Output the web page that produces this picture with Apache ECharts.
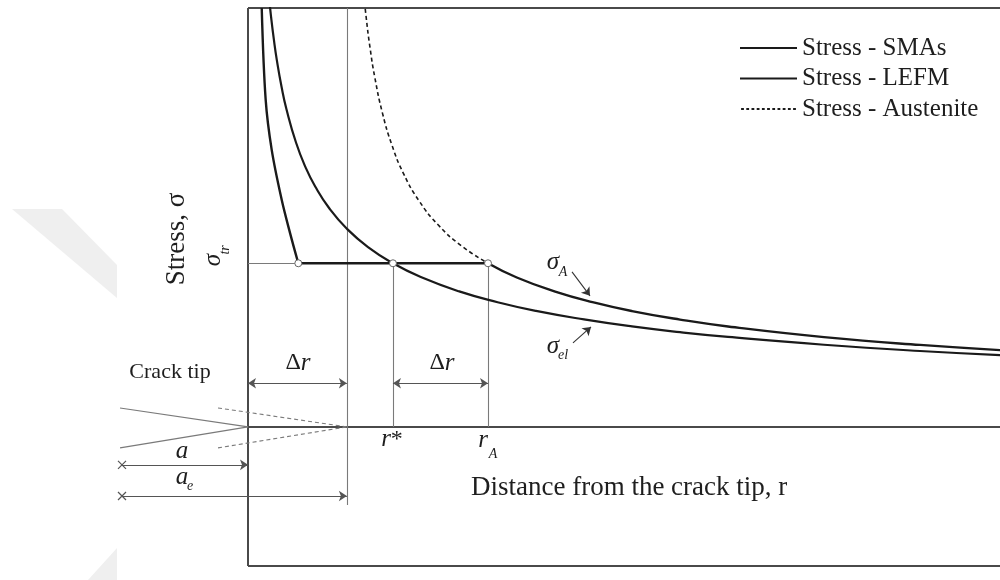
<!DOCTYPE html>
<html><head><meta charset="utf-8">
<script src="https://cdn.jsdelivr.net/npm/echarts/dist/echarts.min.js"></script>
<style>html,body{margin:0;background:#fff}#c{width:1000px;height:580px}</style>
</head><body><div id="c"></div>
<script>
// ---- Data (r in units of ~Δr, stress in units of σ_tr) ----
const legendNames = ['Stress - SMAs', 'Stress - LEFM', 'Stress - Austenite'];

// SMA curve near the tip (before transformation plateau)
const smaLeftR = [0.143, 0.184, 0.247, 0.351, 0.4375, 0.524];
const smaLeftS = [2.56, 2.00, 1.693, 1.388, 1.186, 1.00];
// plateau at σ_tr
const plateauR = [0.524, 2.50];
const plateauS = [1.00, 1.00];
// SMA tail beyond r_A (follows the austenite curve)
const tailR = [2.50, 2.8, 3.2, 3.6, 4.0, 4.5, 5.0, 6.0, 7.0, 8.0];
const tailS = [1.00, 0.913, 0.827, 0.761, 0.708, 0.656, 0.614, 0.549, 0.501, 0.464];
// LEFM (elastic) curve
const lefmR = [0.22, 0.24, 0.27, 0.30, 0.35, 0.40, 0.50, 0.60, 0.70, 0.85, 1.03, 1.25, 1.51, 1.8, 2.2, 2.6, 3.0, 3.5, 4.0, 4.5, 5.0, 6.0, 7.0, 8.0];
const lefmS = [2.620, 2.508, 2.365, 2.243, 2.077, 1.943, 1.738, 1.586, 1.469, 1.333, 1.211, 1.099, 1.000, 0.916, 0.828, 0.762, 0.709, 0.657, 0.614, 0.579, 0.550, 0.502, 0.464, 0.434];
// Austenite curve (dashed part, up to r_A)
const austR = [1.20, 1.23, 1.27, 1.32, 1.40, 1.50, 1.62, 1.78, 1.98, 2.22, 2.50];
const austS = [2.682, 2.508, 2.322, 2.139, 1.919, 1.721, 1.548, 1.383, 1.235, 1.108, 1.000];

// key abscissae / ordinates
const kneeR = 0.524, deltaLineR = 1.03, rStar = 1.51, rA = 2.50, sigmaTr = 1.0;
const rMin = -1.5, rMax = 47 / 6, sMin = -0.85, sMax = 2.56;
const crackStartR = -1.333, crackOpen = [0.116, -0.128], effCrackStartR = -0.3125;
const dimS = 0.267, aS = -0.232, aeS = -0.422, dimStartR = -1.3125, deltaLineBottom = -0.477;
const pointersA = [[3.375, 0.947], [3.5625, 0.801]];
const pointersEl = [[3.385, 0.513], [3.573, 0.611]];

// annotation texts: [formatter, r, s, style]
const annotations = [
  ['{u|Δ}{i|r}', 0.521, 0.391, 'dim'],
  ['{u|Δ}{i|r}', 2.021, 0.391, 'dim'],
  ['Crack tip', -0.8125, 0.336, 'plain'],
  ['{i|a}', -0.6875, -0.147, 'dim'],
  ['{i|a}', -0.6875, -0.306, 'dim'],
  ['{s|e}', -0.604, -0.361, 'sub'],
  ['{i|r}{u|*}', 1.50, -0.079, 'dim'],
  ['{i|r}', 2.448, -0.0856, 'dim'],
  ['{s|A}', 2.552, -0.165, 'sub'],
  ['{i|σ}', 3.177, 1.008, 'dim'],
  ['{s|A}', 3.281, 0.947, 'sub'],
  ['{i|σ}', 3.177, 0.489, 'dim'],
  ['{s|el}', 3.281, 0.44, 'sub'],
  ['Stress, σ', -0.74, 1.149, 'axisV'],
  ['{i|σ}', -0.365, 1.02, 'rotMain'],
  ['{s|tr}', -0.24, 1.082, 'rotSub'],
  ['Distance from the crack tip, r', 3.97, -0.373, 'axisH']
];

// ---- Build ----
const FONT = '"Liberation Serif", "Times New Roman", serif';
const TXT = '#1e1e1e';
const zip = (a, b) => a.map((v, i) => [v, b[i]]);
const rich = {
  u: {fontFamily: FONT, fontSize: 24, color: TXT},
  i: {fontFamily: FONT, fontSize: 25, fontStyle: 'italic', color: TXT},
  s: {fontFamily: FONT, fontSize: 14, fontStyle: 'italic', color: TXT}
};
const styles = {
  dim: {rotate: 0},
  sub: {rotate: 0},
  plain: {rotate: 0, fontSize: 22},
  axisV: {rotate: 90, fontSize: 27},
  axisH: {rotate: 0, fontSize: 27},
  rotMain: {rotate: 90},
  rotSub: {rotate: 90}
};
const labelData = annotations.map(([t, r, s, k]) => ({
  value: [r, s],
  label: Object.assign({
    show: true, formatter: t, position: 'inside', align: 'center', verticalAlign: 'middle',
    fontFamily: FONT, color: TXT, rich: rich
  }, styles[k])
}));

const GREY = '#7a7a7a', DARK = '#1a1a1a', FRAME = '#4a4a4a', DIMC = '#555';
const seg = (p, q, opt) => [Object.assign({coord: p}, opt || {}), {coord: q, symbol: (opt && opt.endSymbol) || 'none'}];
const thin = {lineStyle: {color: GREY, width: 1.1, type: 'solid'}, symbol: 'none'};
const dashed = {lineStyle: {color: GREY, width: 1.1, type: [4, 3]}, symbol: 'none'};
const dimBoth = {lineStyle: {color: DIMC, width: 1.1, type: 'solid'}, symbol: 'arrow', endSymbol: 'arrow'};
const dimEnd = {lineStyle: {color: DIMC, width: 1.1, type: 'solid'}, symbol: 'none', endSymbol: 'arrow'};
const pointer = {lineStyle: {color: '#333', width: 1.1, type: 'solid'}, symbol: 'none', endSymbol: 'arrow'};
const frame = {lineStyle: {color: FRAME, width: 2, type: 'solid'}, symbol: 'none'};
const markLines = [
  // frame and r-axis
  seg([0, sMin], [0, sMax], frame),
  seg([0, sMax], [rMax, sMax], frame),
  seg([0, sMin], [rMax, sMin], frame),
  seg([0, 0], [rMax, 0], frame),
  // guides
  seg([0, sigmaTr], [kneeR, sigmaTr], thin),
  seg([deltaLineR, deltaLineBottom], [deltaLineR, sMax], thin),
  seg([rStar, 0], [rStar, sigmaTr], thin),
  seg([rA, 0], [rA, sigmaTr], thin),
  // crack
  seg([crackStartR, crackOpen[0]], [0, 0], thin),
  seg([crackStartR, crackOpen[1]], [0, 0], thin),
  seg([effCrackStartR, crackOpen[0]], [deltaLineR, 0], dashed),
  seg([effCrackStartR, crackOpen[1]], [deltaLineR, 0], dashed),
  // dimensions
  seg([0, dimS], [deltaLineR, dimS], dimBoth),
  seg([rStar, dimS], [rA, dimS], dimBoth),
  seg([dimStartR, aS], [0, aS], dimEnd),
  seg([dimStartR, aeS], [deltaLineR, aeS], dimEnd),
  // pointers to curves
  seg(pointersA[0], pointersA[1], pointer),
  seg(pointersEl[0], pointersEl[1], pointer)
];

// legend icons (pure styling)
const solidIcon = 'path://M0,0H57V2H0Z';
let dashedIcon = 'path://';
for (let x = 0; x < 56; x += 5.2) dashedIcon += 'M' + x.toFixed(1) + ',0h2.8v2h-2.8Z';

const chart = echarts.init(document.getElementById('c'), null, {renderer: 'canvas'});
const curve = (name, data, extra) => Object.assign({
  name: name, type: 'line', data: data, symbol: 'none', showSymbol: false,
  lineStyle: {color: DARK, width: 2.2}, itemStyle: {color: DARK}, z: 5
}, extra || {});

chart.setOption({
  animation: false,
  backgroundColor: '#fff',
  graphic: [
    {type: 'polygon', z: -1, shape: {points: [[12, 209], [62, 209], [117, 265], [117, 298]]}, style: {fill: '#efefef'}},
    {type: 'polygon', z: -1, shape: {points: [[117, 548], [117, 580], [88, 580]]}, style: {fill: '#efefef'}}
  ],
  grid: {left: 104, top: 8, width: 896, height: 558, outerBoundsMode: 'none'},
  legend: {
    data: [
      {name: legendNames[0], icon: solidIcon},
      {name: legendNames[1], icon: solidIcon},
      {name: legendNames[2], icon: dashedIcon}
    ],
    orient: 'vertical', left: 740, top: 33, padding: 0, itemWidth: 57, itemHeight: 2, itemGap: 0.5,
    selectedMode: false,
    textStyle: {fontFamily: FONT, fontSize: 25, color: TXT, lineHeight: 30}
  },
  xAxis: {type: 'value', min: rMin, max: rMax, axisLine: {show: false}, axisTick: {show: false}, axisLabel: {show: false}, splitLine: {show: false}},
  yAxis: {type: 'value', min: sMin, max: sMax, axisLine: {show: false}, axisTick: {show: false}, axisLabel: {show: false}, splitLine: {show: false}},
  series: [
    curve('Stress - SMAs', zip(smaLeftR, smaLeftS), {smooth: 0.35, lineStyle: {color: DARK, width: 2.4}}),
    curve('Stress - SMAs', zip(plateauR, plateauS), {lineStyle: {color: DARK, width: 2.4}}),
    curve('Stress - SMAs', zip(tailR, tailS), {smooth: true, lineStyle: {color: DARK, width: 2.4}}),
    curve('Stress - LEFM', zip(lefmR, lefmS), {smooth: true, lineStyle: {color: DARK, width: 2.2}}),
    curve('Stress - Austenite', zip(austR, austS), {smooth: true, lineStyle: {color: DARK, width: 1.6, type: [4, 3]}}),
    {name: 'guides', type: 'line', data: [], clip: false, silent: true, z: 4,
     markLine: {silent: true, symbol: ['none', 'none'], symbolSize: 8, label: {show: false}, emphasis: {disabled: true}, data: markLines}},
    {name: 'points', type: 'scatter', data: [[kneeR, sigmaTr], [rStar, sigmaTr], [rA, sigmaTr]], symbolSize: 7, z: 8, silent: true,
     itemStyle: {color: '#fff', borderColor: '#666', borderWidth: 1, opacity: 1}},
    {name: 'crosses', type: 'scatter', data: [[dimStartR, aS], [dimStartR, aeS]], clip: false, silent: true,
     symbol: 'path://M0,0L10,10M10,0L0,10', symbolSize: 8, itemStyle: {color: 'none', borderColor: '#555', borderWidth: 1.2, opacity: 1}},
    {name: 'labels', type: 'scatter', data: labelData, symbolSize: 1, clip: false, silent: true, z: 10,
     itemStyle: {color: 'rgba(0,0,0,0)', opacity: 1}}
  ]
});
</script></body></html>
